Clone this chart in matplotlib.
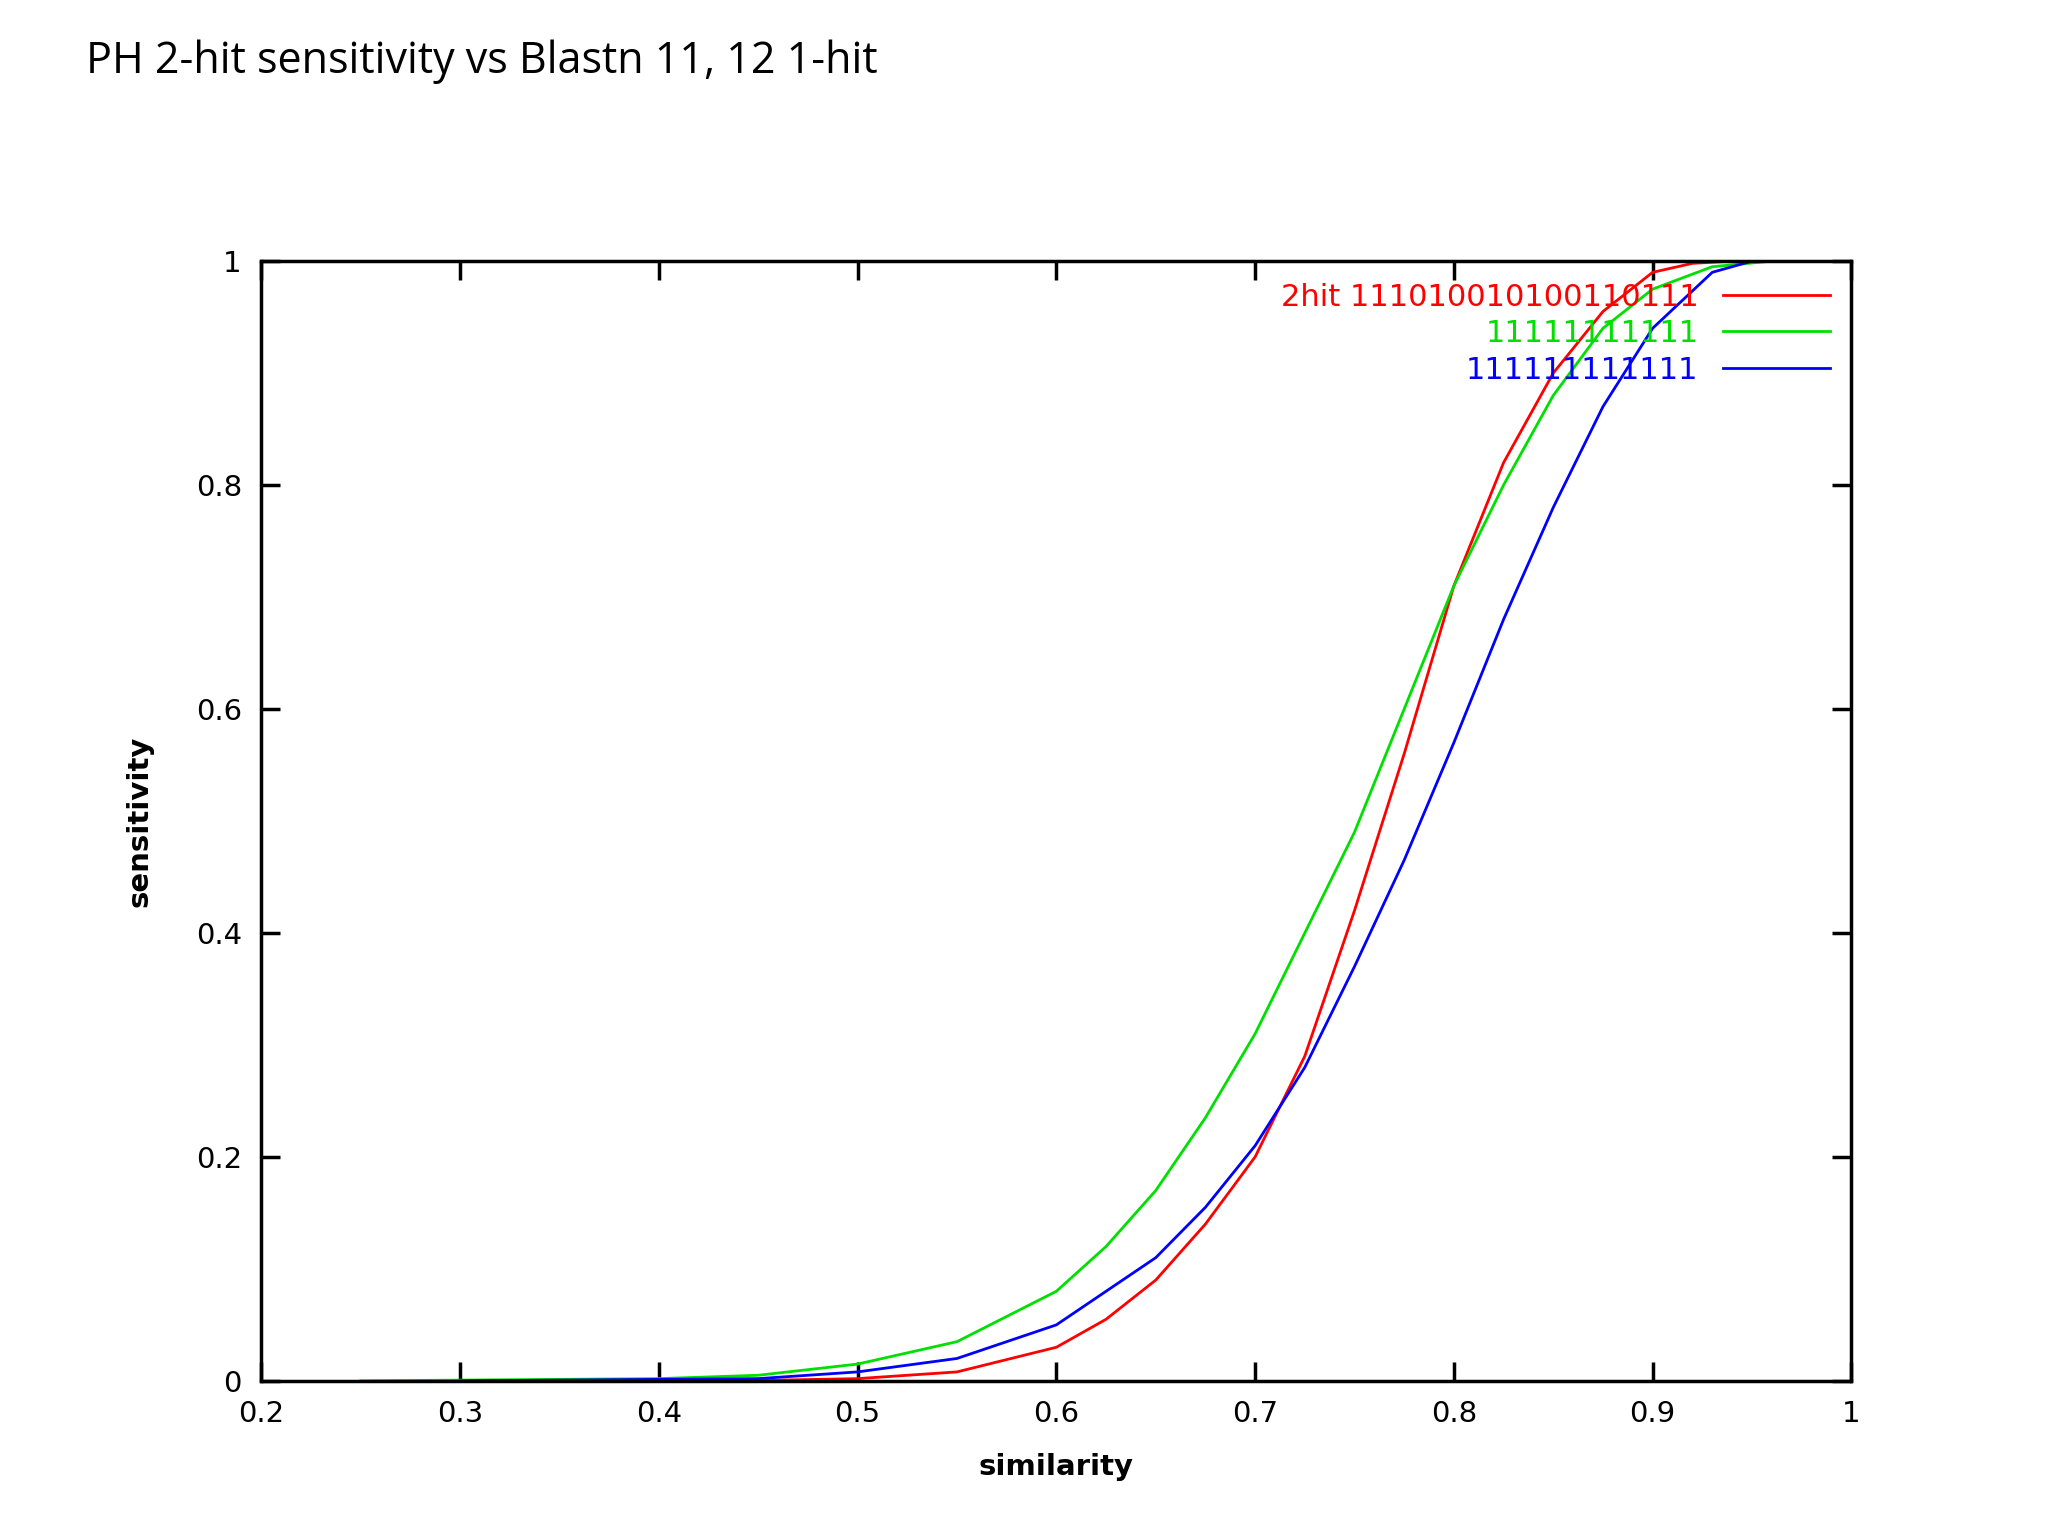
import matplotlib
matplotlib.use("Agg")
import matplotlib.pyplot as plt

red_x = [0.44, 0.5, 0.55, 0.6, 0.625, 0.65, 0.675, 0.7, 0.725, 0.75, 0.775, 0.8, 0.825, 0.85, 0.875, 0.9, 0.92, 0.94]
red_y = [0.0, 0.002, 0.008, 0.03, 0.055, 0.09, 0.14, 0.2, 0.29, 0.42, 0.56, 0.71, 0.82, 0.9, 0.955, 0.99, 0.998, 1.0]
green_x = [0.25, 0.4, 0.45, 0.5, 0.55, 0.6, 0.625, 0.65, 0.675, 0.7, 0.725, 0.75, 0.775, 0.8, 0.825, 0.85, 0.875, 0.9, 0.93, 0.96]
green_y = [0.0, 0.002, 0.005, 0.015, 0.035, 0.08, 0.12, 0.17, 0.235, 0.31, 0.4, 0.49, 0.6, 0.71, 0.8, 0.88, 0.94, 0.975, 0.995, 1.0]
blue_x = [0.3, 0.45, 0.5, 0.55, 0.6, 0.625, 0.65, 0.675, 0.7, 0.725, 0.75, 0.775, 0.8, 0.825, 0.85, 0.875, 0.9, 0.93, 0.95, 1.0]
blue_y = [0.0, 0.002, 0.008, 0.02, 0.05, 0.08, 0.11, 0.155, 0.21, 0.28, 0.37, 0.465, 0.57, 0.68, 0.78, 0.87, 0.94, 0.99, 1.0, 1.0]
labels = ["2hit 111010010100110111", "11111111111", "111111111111"]

fig = plt.figure(figsize=(20.48, 15.36), dpi=100)
fig.text(0.042, 0.96, "PH 2-hit sensitivity vs Blastn 11, 12 1-hit", fontsize=31,
         family="Open Sans", va="center")
ax = fig.add_axes([0.1276, 0.101, 0.7764, 0.729])
ax.plot(red_x, red_y, color="#ff0000", lw=2, label=labels[0])
ax.plot(green_x, green_y, color="#00e000", lw=2, label=labels[1])
ax.plot(blue_x, blue_y, color="#0000ff", lw=2, label=labels[2])
ax.set_xlim(0.2, 1)
ax.set_ylim(0, 1)
ax.set_xticks([0.2, 0.3, 0.4, 0.5, 0.6, 0.7, 0.8, 0.9, 1])
ax.set_xticklabels(["0.2", "0.3", "0.4", "0.5", "0.6", "0.7", "0.8", "0.9", "1"])
ax.set_yticks([0, 0.2, 0.4, 0.6, 0.8, 1])
ax.set_yticklabels(["0", "0.2", "0.4", "0.6", "0.8", "1"])
ax.tick_params(direction="in", length=14, width=2.5, labelsize=21, top=True, right=True, pad=14)
for s in ax.spines.values():
    s.set_linewidth(2.5)
ax.set_xlabel("similarity", fontsize=21, fontweight="bold", labelpad=18)
ax.set_ylabel("sensitivity", fontsize=21, fontweight="bold", labelpad=30)
leg = ax.legend(loc="upper right", frameon=False, fontsize=22, markerfirst=False,
                handlelength=3.5, labelspacing=0.25, borderaxespad=0.3)
for t, c in zip(leg.get_texts(), ["#ff0000", "#00e000", "#0000ff"]):
    t.set_color(c)
    t.set_ha("right")
fig.savefig("out.png")
